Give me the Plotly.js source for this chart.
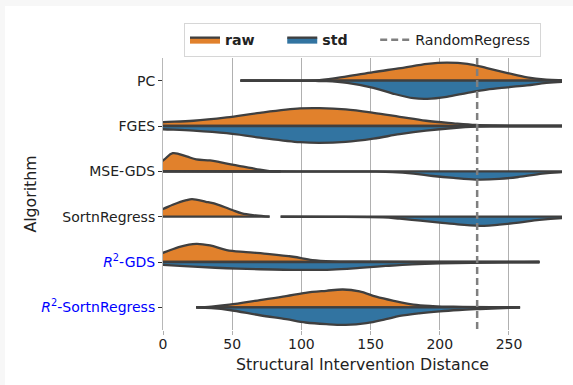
<!DOCTYPE html>
<html>
<head>
<meta charset="utf-8">
<script src="https://cdn.plot.ly/plotly-3.0.1.min.js"></script>
<style>
html, body { margin: 0; padding: 0; background: #f7f7f7; width: 573px; height: 385px; overflow: hidden; }
#chart { position: absolute; left: 5px; top: 6px; width: 568px; height: 379px; background: #fff; }
</style>
</head>
<body>
<div id="chart"></div>
<script>
// Categories (top to bottom)
const algorithms = ["PC", "FGES", "MSE-GDS", "SortnRegress", "R2-GDS", "R2-SortnRegress"];
const tickLabels = [
  "PC", "FGES", "MSE-GDS", "SortnRegress",
  '<span style="color:#0000ff"><i>R</i><sup>2</sup>-GDS</span>',
  '<span style="color:#0000ff"><i>R</i><sup>2</sup>-SortnRegress</span>'
];
const xTicks = [0, 50, 100, 150, 200, 250];
const randomRegressSID = 227;

// Estimated density profiles (x = SID, d = density in arbitrary units)
const pcRawX  = [56, 80, 113, 133, 152, 172, 191, 205, 220, 234, 249, 263, 277, 287, 300];
const pcRawD  = [0.2, 0.2, 0.5, 4.3, 8.7, 12.7, 17, 18.3, 17, 12.7, 7.7, 3.3, 1, 0.4, 0.2];
const pcStdX  = [56, 80, 110, 118, 133, 152, 166, 181, 191, 205, 220, 234, 249, 263, 277, 290, 305];
const pcStdD  = [0.2, 0.2, 0.3, 0.5, 2.3, 7.3, 13, 17.7, 18.3, 16.3, 12.3, 9, 6.7, 4.7, 2.3, 1, 0.3];

const fgesRawX = [-20, 0, 22, 46, 70, 99, 113, 132, 152, 171, 190, 210, 226, 240, 260, 300];
const fgesRawD = [2.5, 4, 5.3, 8.7, 13.3, 17.7, 18, 16.7, 13.3, 9.3, 5.3, 2.7, 1, 0.5, 0.4, 0.4];
const fgesStdX = [-20, 0, 22, 46, 70, 99, 113, 132, 152, 171, 190, 210, 226, 240, 300];
const fgesStdD = [2, 3.3, 4.7, 7.3, 11.7, 16.3, 17, 16, 12.7, 8.3, 4.7, 2, 0.7, 0.4, 0.4];

const mseRawX = [-10, 0, 7, 17, 24, 34, 41, 50, 60, 70, 77, 85];
const mseRawD = [5, 11, 18.3, 15, 12, 11, 9.3, 6.7, 4.3, 1.7, 0.3, 0];
const mseStdX = [-10, 50, 100, 150, 166, 181, 195, 210, 226, 243, 257, 274, 286, 300];
const mseStdD = [0.1, 0.2, 0.2, 0.3, 0.7, 2.3, 4.7, 6.7, 8.3, 7.7, 5.7, 2.3, 1, 0.5];

const snrRawX = [-10, 0, 7, 17, 21, 31, 40, 50, 57, 67, 77];
const snrRawD = [3, 7.7, 12, 16.7, 17.7, 15, 12, 6.7, 3.3, 1.3, 0];
const snrStdX = [85, 120, 159, 171, 186, 200, 215, 232, 243, 257, 272, 290, 300];
const snrStdD = [0.1, 0.2, 0.7, 2, 4, 6, 8, 9.3, 8, 6, 3.3, 1.3, 0.8];

const r2gdsRawX = [-10, 0, 12, 24, 34, 46, 60, 77, 94, 108, 122, 140, 200, 272];
const r2gdsRawD = [6, 9.3, 15.3, 18.3, 16.7, 12, 10, 8, 5.3, 2, 0.7, 0.3, 0.2, 0];
const r2gdsStdX = [-10, 0, 22, 46, 70, 99, 122, 142, 161, 180, 200, 238, 272];
const r2gdsStdD = [2.5, 3, 4.7, 6.3, 7.3, 8, 7.7, 6, 4, 2.3, 1.3, 0.5, 0];

const r2snrRawX = [24, 35, 48, 70, 89, 103, 118, 130, 142, 154, 166, 181, 195, 210, 258];
const r2snrRawD = [0, 0.8, 2.7, 7.3, 11.3, 14.7, 16.7, 18, 16, 10.7, 6.7, 2.7, 1.3, 0.6, 0];
const r2snrStdX = [24, 35, 48, 70, 89, 103, 118, 132, 147, 161, 171, 185, 200, 214, 229, 258];
const r2snrStdD = [0, 0.8, 2.7, 8, 12, 15.3, 17, 17.7, 16, 12, 8.7, 6, 4, 2.7, 1.7, 0];

const rawProfiles = [[pcRawX, pcRawD], [fgesRawX, fgesRawD], [mseRawX, mseRawD], [snrRawX, snrRawD], [r2gdsRawX, r2gdsRawD], [r2snrRawX, r2snrRawD]];
const stdProfiles = [[pcStdX, pcStdD], [fgesStdX, fgesStdD], [mseStdX, mseStdD], [snrStdX, snrStdD], [r2gdsStdX, r2gdsStdD], [r2snrStdX, r2snrStdD]];

// styling
const RAW_COLOR = "#e1812c";
const STD_COLOR = "#3274a1";
const EDGE = "#3f3f3f";
const LW = 2.3;
const SCALE = 0.4 / 18.3;  // max half width 0.4 category units
const NB = "\u00a0";

const traces = [];
function addHalf(xs, ds, pos, sign, color, name, group, show) {
  // centre line
  traces.push({
    type: "scatter", mode: "lines", x: [xs[0], xs[xs.length - 1]], y: [pos, pos],
    line: {color: EDGE, width: LW}, showlegend: false, hoverinfo: "skip"
  });
  // density outline filled to centre line
  traces.push({
    type: "scatter", mode: "lines", x: xs, y: ds.map(d => pos + sign * d * SCALE),
    fill: "tonexty", fillcolor: color, line: {color: EDGE, width: LW, shape: "spline", smoothing: 1},
    name: name, legendgroup: group, showlegend: show, hoverinfo: "skip"
  });
}
algorithms.forEach((name, i) => {
  addHalf(rawProfiles[i][0], rawProfiles[i][1], i, -1, RAW_COLOR, "<b>raw</b>" + NB.repeat(5), "raw", i === 0);
  addHalf(stdProfiles[i][0], stdProfiles[i][1], i, 1, STD_COLOR, "<b>std</b>" + NB.repeat(5), "std", i === 0);
});
traces.push({
  type: "scatter", mode: "lines", x: [randomRegressSID, randomRegressSID], y: [-0.5, 5.5],
  line: {color: "#7f7f7f", width: 2.5, dash: "7px,4px"}, name: "RandomRegress" + NB, hoverinfo: "skip"
});

const layout = {
  width: 568, height: 379,
  margin: {l: 158, r: 11, t: 52, b: 55},
  paper_bgcolor: "#ffffff", plot_bgcolor: "#ffffff",
  font: {family: "DejaVu Sans, sans-serif", size: 14, color: "#222"},
  showlegend: true,
  legend: {
    orientation: "h", x: 0.0526, y: 1.129, xanchor: "left", yanchor: "top",
    bordercolor: "#d6d6d6", borderwidth: 1, bgcolor: "#fff",
    font: {size: 14.2, color: "#222"}, traceorder: "normal"
  },
  xaxis: {
    range: [0, 288.3], tickvals: xTicks, ticktext: xTicks.map(String),
    showgrid: true, gridcolor: "#b0b0b0", gridwidth: 1, zeroline: false,
    ticks: "outside", ticklen: 4, tickcolor: "#b0b0b0", showline: false,
    ticklabelstandoff: -3,
    tickfont: {size: 14}, title: {text: "Structural Intervention Distance", font: {size: 15.75}, standoff: 8}
  },
  yaxis: {
    range: [5.5, -0.5], tickvals: [0, 1, 2, 3, 4, 5], ticktext: tickLabels,
    showgrid: false, zeroline: false, ticks: "outside", ticklen: 4, tickcolor: "#333",
    showline: true, linecolor: "#b8b8b8", linewidth: 1,
    tickfont: {size: 14}, title: {text: "Algorithm", font: {size: 15.75}, standoff: 0}
  }
};

Plotly.newPlot("chart", traces, layout, {displayModeBar: false, staticPlot: true});
</script>
</body>
</html>
